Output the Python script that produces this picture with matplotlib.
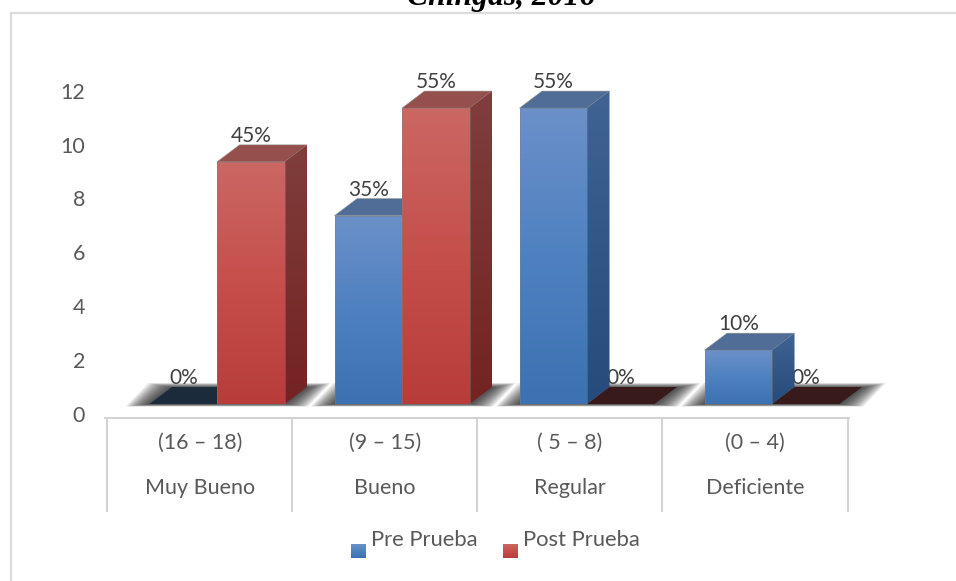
#!/usr/bin/env python3
"""Pseudo-3D clustered bars, Pre Prueba vs Post Prueba."""

import matplotlib

matplotlib.use("Agg")
import matplotlib.pyplot as plt
import numpy as np
from matplotlib.colors import LinearSegmentedColormap
from matplotlib.lines import Line2D
from matplotlib.patches import Polygon

plt.rcParams["font.family"] = ["Lato", "DejaVu Sans"]

ranges = ["(16 – 18)", "(9 – 15)", "( 5 – 8)", "(0 – 4)"]
levels = ["Muy Bueno", "Bueno", "Regular", "Deficiente"]
pre_values = [0, 7, 11, 2]
post_values = [9, 11, 0, 0]
pre_labels = ["0%", "35%", "55%", "10%"]
post_labels = ["45%", "55%", "0%", "0%"]
y_ticks = [0, 2, 4, 6, 8, 10, 12]

W, H = 956, 581
X0, XS = 217.0, 185.0  # pixel of category 0, pixels per category
Y0, YS = 404.0, 26.9  # pixel of value 0, pixels per unit
BAR = 67.5 / XS
DX, DY = 22.5 / XS, 17.0 / YS

BLUE = dict(
    front=("#6B90C9", "#4F81C0", "#3C72B2"),
    side=("#3F6392", "#264C7C"),
    top="#4F6D96",
    flat="#1C2B3C",
)
RED = dict(
    front=("#CB6763", "#C54F4B", "#B83D3A"),
    side=("#7F3E3C", "#742321"),
    top="#954F4D",
    flat="#381A1A",
)
TEXT = "#595959"
LINE = "#D2D2D2"

fig = plt.figure(figsize=(W / 100, H / 100), dpi=100)
ax = fig.add_axes([0, 0, 1, 1])
ax.axis("off")


def dx(px):
    return (px - X0) / XS


def dy(py):
    return (Y0 - py) / YS


def gradient_poly(verts, colors, z, edge=None):
    xs, ys = zip(*verts)
    cmap = LinearSegmentedColormap.from_list("g", list(colors))
    img = ax.imshow(
        np.linspace(0, 1, 64).reshape(-1, 1),
        cmap=cmap,
        extent=(min(xs), max(xs), min(ys), max(ys)),
        origin="upper",
        aspect="auto",
        zorder=z,
    )
    clip = Polygon(verts, closed=True, transform=ax.transData, facecolor="none", edgecolor="none")
    ax.add_patch(clip)
    img.set_clip_path(clip)
    if edge:
        ax.add_patch(Polygon(verts, closed=True, fill=False, edgecolor=edge, linewidth=0.6, zorder=z + 0.01))


def draw_bar(x0, value, colors, z):
    x1 = x0 + BAR
    if value == 0:
        ax.add_patch(
            Polygon(
                [(x0, 0), (x1, 0), (x1 + DX, DY), (x0 + DX, DY)],
                closed=True,
                facecolor=colors["flat"],
                edgecolor="none",
                zorder=2,
            )
        )
        return
    ax.add_patch(
        Polygon(
            [(x0, value), (x1, value), (x1 + DX, value + DY), (x0 + DX, value + DY)],
            closed=True,
            facecolor=colors["top"],
            edgecolor="#8A8A8A",
            linewidth=0.4,
            zorder=z,
        )
    )
    gradient_poly([(x1, 0), (x1 + DX, DY), (x1 + DX, value + DY), (x1, value)], colors["side"], z)
    gradient_poly([(x0, 0), (x1, 0), (x1, value), (x0, value)], colors["front"], z + 0.1, edge="#80808080")


def draw_shadow(c):
    # stacked translucent outlines stand in for the soft blur
    x0, x1 = c - BAR, c + BAR
    for k in range(24):
        pad = (24 - k * 1.0) / XS
        up = (4 - k * 0.2) / YS
        low = (2.5 - k * 0.1) / YS
        ax.add_patch(
            Polygon(
                [
                    (x0 - pad, -low),
                    (x1 + pad, -low),
                    (x1 + DX + pad, DY + up),
                    (x0 + DX - pad, DY + up),
                ],
                closed=True,
                facecolor="#222222",
                edgecolor="none",
                alpha=0.055,
                zorder=1,
            )
        )


def add_label(x, value, text):
    ax.annotate(
        text,
        (x, value),
        xytext=(0, 26),
        textcoords="offset pixels",
        ha="center",
        va="center",
        fontsize=15,
        color="#404040",
        zorder=3,
    )


for i in range(len(levels)):
    draw_shadow(i)

for i in range(len(levels)):
    draw_bar(i - BAR, pre_values[i], BLUE, 4 + i)
    draw_bar(i, post_values[i], RED, 4.5 + i)
    add_label(i - BAR / 2, pre_values[i], pre_labels[i])
    add_label(i + BAR / 2, post_values[i], post_labels[i])

for v in y_ticks:
    ax.annotate(
        str(v),
        (dx(85), v),
        xytext=(0, -11.5),
        textcoords="offset pixels",
        ha="right",
        va="center",
        fontsize=15.5,
        color=TEXT,
    )

# category table under the axis
for px in [107, 292, 477, 662, 848]:
    ax.add_line(Line2D([dx(px), dx(px)], [dy(418), dy(511)], color=LINE, linewidth=1.4, zorder=1))
ax.add_line(Line2D([dx(105), dx(849)], [dy(418), dy(418)], color=LINE, linewidth=1.4, zorder=1))
for i in range(len(levels)):
    ax.text(i - 17 / XS, dy(443), ranges[i], ha="center", va="center", fontsize=15.5, color=TEXT)
    ax.text(i - 17 / XS, dy(488), levels[i], ha="center", va="center", fontsize=15.5, color=TEXT)

# legend
for px, name, colors in [(351, "Pre Prueba", BLUE), (503, "Post Prueba", RED)]:
    x0, x1 = dx(px), dx(px + 15)
    y0, y1 = dy(558), dy(544)
    gradient_poly([(x0, y0), (x1, y0), (x1, y1), (x0, y1)], colors["front"], 3)
    ax.text(dx(px + 20), dy(540), name, ha="left", va="center", fontsize=15.8, color=TEXT)

# chart frame, runs off the right and bottom of the crop
ax.add_line(Line2D([dx(11), dx(956)], [dy(13), dy(13)], color="#DCDCDC", linewidth=1.6, zorder=1))
ax.add_line(Line2D([dx(11), dx(11)], [dy(13), dy(581)], color="#DCDCDC", linewidth=1.6, zorder=1))

ax.text(
    dx(501),
    dy(5),
    "Chingas, 2016",
    ha="center",
    va="baseline",
    fontsize=22.8,
    family="Liberation Serif",
    fontweight="bold",
    fontstyle="italic",
    color="black",
)

ax.set_xlim(dx(0), dx(W))
ax.set_ylim(dy(H), dy(0))
fig.savefig("out.png", dpi=100, facecolor="white")
plt.close(fig)
